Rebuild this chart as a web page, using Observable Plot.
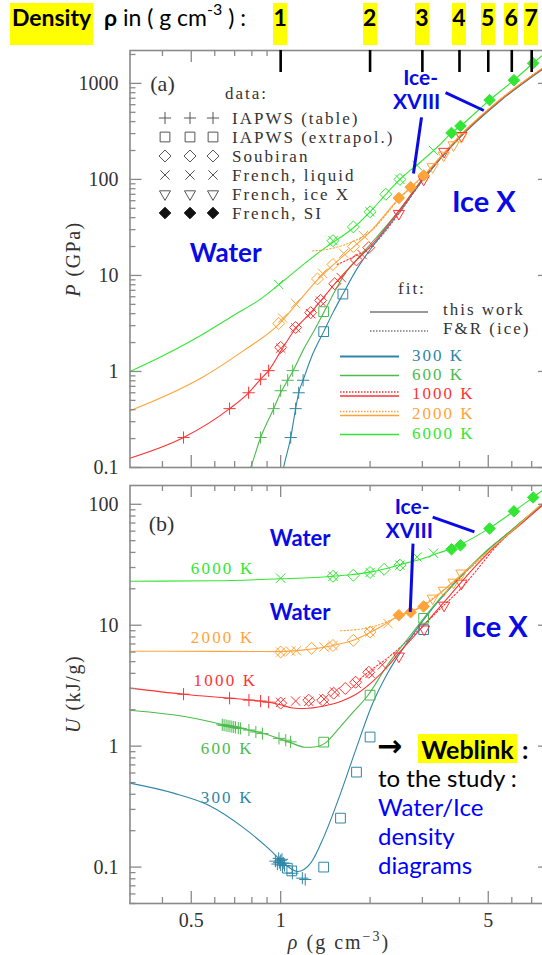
<!DOCTYPE html>
<html><head><meta charset="utf-8">
<script src="https://cdn.jsdelivr.net/npm/d3@7"></script>
<script src="https://cdn.jsdelivr.net/npm/@observablehq/plot@0.6"></script>
<style>
html,body{margin:0;padding:0;background:#fff;overflow:hidden;}
#wrap{position:relative;width:542px;height:955px;overflow:hidden;background:#fff;}
.abs{position:absolute;white-space:nowrap;}
.hl{background:#ffff00;}
#wrap svg{max-width:none !important;}
</style></head><body><div id="wrap"></div>
<script>
// ---------- categories / ticks ----------
const densityTicks = [1,2,3,4,5,6,7];
const xTickLabels = [0.5,1,5];
const xMajor = [0.5,1,5];
const topYTicks = [0.1,1,10,100,1000];
const botYTicks = [0.1,1,10,100];
const temps = [300,600,1000,2000,6000];
const tempColors = ["#2f86a6","#4cbb4c","#ff3333","#ffa43a","#33e633"];
const color = T => tempColors[temps.indexOf(T)];

// ---------- panel (a): P fits "this work" [rho, P] ----------
const P_fit300 = [[1.0,0.07],[1.023,0.1],[1.081,0.205],[1.123,0.41],[1.15,0.6],[1.19,0.81],[1.28,1.5],[1.396,2.6],[1.5,4.1],[1.62,6.4],[1.8,11.5],[2.0,18.5],[2.5,45],[3.0,97],[4.0,270],[5.5,660],[8.1,1600]];
const P_fit600 = [[0.75,0.07],[0.792,0.1],[0.856,0.205],[0.947,0.41],[1.0,0.6],[1.056,0.81],[1.098,1.0],[1.2,1.75],[1.3,2.7],[1.396,4.1],[1.5,6.3],[1.65,10.5],[1.85,16],[2.0,21],[2.5,47],[3.0,100],[4.0,275],[5.5,670],[8.1,1620]];
const P_fit1000 = [[0.311,0.125],[0.471,0.205],[0.673,0.41],[0.78,0.6],[0.856,0.83],[0.911,1.02],[1.0,1.62],[1.123,2.8],[1.262,4.1],[1.363,5.4],[1.5,7.8],[1.7,12],[1.9,17],[2.0,20],[2.5,47],[3.0,100],[4.0,278],[5.5,675],[8.1,1630]];
const P_fit2000 = [[0.311,0.39],[0.538,0.85],[0.75,1.65],[0.985,3.1],[1.123,4.9],[1.33,9.0],[1.5,12.8],[1.75,19.5],[2.0,28.5],[2.5,63],[2.74,83],[3.03,110],[3.5,180],[4.0,283],[5.5,685],[8.1,1650]];
const P_fit6000 = [[0.311,1.0],[0.4,1.45],[0.538,2.37],[0.7,3.9],[0.843,5.5],[0.985,8.0],[1.2,13.2],[1.417,19.6],[1.75,31],[2.0,46],[2.26,70],[2.52,100],[3.0,158],[3.46,235],[3.76,305],[4.03,360],[5.05,670],[6.1,1080],[7.08,1620],[8.1,2300]];
// F&R (ice) fits
const P_fr1000 = [[1.55,13],[1.75,15.5],[2.0,19.5],[2.5,44],[3.0,97],[4.0,272],[5.5,670],[8.1,1630]];
const P_fr2000 = [[1.28,18],[1.45,18.8],[1.65,21],[1.85,24.5],[2.0,28.5],[2.5,62],[3.0,106],[4.0,282],[5.5,685],[8.1,1650]];

// ---------- panel (a): data points [T, rho, P] ----------
const P_table = [[300,1.081,0.205],[300,1.123,0.41],[300,1.15,0.6],[300,1.19,0.81],[600,0.856,0.205],[600,0.947,0.41],[600,1.0,0.63],[600,1.056,0.81],[600,1.098,1.02],[1000,0.471,0.205],[1000,0.673,0.41],[1000,0.78,0.6],[1000,0.856,0.83],[1000,0.911,1.02]];
const P_extrap = [[300,1.396,2.6],[300,1.62,6.4],[600,1.396,4.2]];
const P_soubiran = [[1000,1.0,1.78],[1000,1.123,2.87],[1000,1.262,4.1],[1000,1.363,5.5],[1000,1.52,8.2],[1000,1.8,14.5],[1000,1.98,19.5],[2000,0.985,3.16],[2000,1.33,9.2],[2000,1.5,13],[2000,1.757,20],[6000,1.5,23],[6000,1.757,32],[6000,2.0,46],[6000,2.26,70],[6000,2.52,100]];
const P_liquid = [[1000,1.0,1.75],[1000,1.123,2.85],[1000,1.262,4.0],[1000,1.363,5.4],[1000,1.6,9.5],[1000,1.88,16.5],[2000,1.016,3.6],[2000,1.123,5.1],[2000,1.385,10.5],[2000,1.63,17],[2000,1.9,26],[6000,0.985,8.05],[6000,1.5,23],[6000,2.0,46],[6000,2.52,100],[6000,2.88,140],[6000,3.27,200]];
const P_iceX = [[1000,2.5,44],[1000,3.03,100],[1000,3.55,195],[1000,4.06,285],[2000,3.25,135],[2000,3.54,178],[2000,3.82,228],[2000,4.06,278]];
const P_SI = [[2000,2.5,64],[2000,2.74,83],[2000,3.03,110],[6000,3.76,305],[6000,4.03,360],[6000,5.05,670],[6000,6.1,1080],[6000,7.08,1620]];

// ---------- panel (b): U fits [rho, U] ----------
const U_fit300 = [[0.311,0.495],[0.436,0.409],[0.57,0.326],[0.745,0.214],[0.923,0.138],[1.0,0.114],[1.14,0.092],[1.262,0.108],[1.396,0.177],[1.592,0.409],[1.788,0.927],[2.04,2.25],[2.29,4.0],[2.74,7.9],[3.27,14.1],[4.03,25],[4.97,41.6],[6.0,61],[7.0,84],[8.1,113]];
const U_fit600 = [[0.311,1.98],[0.5,1.72],[0.653,1.49],[0.78,1.36],[0.87,1.28],[0.985,1.16],[1.08,1.07],[1.21,0.98],[1.32,0.99],[1.42,1.07],[1.55,1.35],[1.75,1.9],[1.96,2.6],[2.29,4.7],[2.74,8.3],[3.27,14.4],[4.03,25.3],[4.97,42],[6.0,61.5],[7.0,85],[8.1,114]];
const U_fit1000 = [[0.311,3.02],[0.471,2.69],[0.673,2.49],[0.856,2.36],[1.0,2.2],[1.098,2.07],[1.2,2.05],[1.4,2.15],[1.6,2.35],[1.8,2.7],[2.06,3.5],[2.3,4.6],[2.53,6.1],[2.8,8],[3.12,10.8],[3.74,18],[4.46,29.5],[5.5,49.5],[6.5,70],[8.1,112]];
const U_fit2000 = [[0.311,6.1],[0.6,6.08],[1.0,6.05],[1.2,6.25],[1.5,6.8],[1.757,7.5],[2.0,8.7],[2.2,9.9],[2.5,12],[2.74,12.9],[3.03,14.5],[3.5,19],[4.0,25.5],[5.5,50],[6.0,60],[7.0,85],[8.1,116]];
const U_fit6000 = [[0.311,23.1],[0.6,23.3],[1.0,24.2],[1.3,24.8],[1.5,25.4],[1.75,26.3],[2.0,27.5],[2.25,29.3],[2.5,31.5],[3.0,35.5],[3.4,39.5],[3.76,43],[4.03,46.5],[5.05,63.5],[6.1,87.5],[7.08,114],[8.1,146]];
const U_fr1000 = [[1.85,3.6],[2.0,4.2],[2.3,5.4],[2.6,7.0],[3.0,9.8],[3.5,14.2],[4.0,19.5],[5.5,49],[8.1,111]];
const U_fr2000 = [[1.59,9.0],[1.8,9.2],[2.0,9.6],[2.2,10.3],[2.5,11.8],[3.0,14.6],[3.5,19.2],[4.0,25],[5.5,49.5],[8.1,115]];

// ---------- panel (b): data points [T, rho, U] ----------
const U_table = [[300,0.96,0.112],[300,0.975,0.106],[300,0.985,0.118],[300,0.99,0.109],[300,1.0,0.113],[300,1.0,0.104],[300,1.01,0.116],[300,1.02,0.108],[300,1.03,0.103],[300,1.095,0.089],[300,1.183,0.081],[300,1.21,0.079],
 [600,0.636,1.5],[600,0.645,1.49],[600,0.655,1.48],[600,0.665,1.47],[600,0.675,1.46],[600,0.685,1.45],[600,0.695,1.44],[600,0.705,1.43],[600,0.72,1.41],[600,0.733,1.4],[600,0.782,1.36],[600,0.825,1.31],[600,0.868,1.27],[600,0.987,1.16],[600,1.04,1.12],[600,1.08,1.085],
 [1000,0.471,2.69],[1000,0.673,2.49],[1000,0.782,2.4],[1000,0.856,2.36],[1000,0.911,2.31]];
const U_extrap = [[300,1.053,0.098],[300,1.09,0.093],[300,1.396,0.1],[300,1.59,0.254],[300,1.8,0.61],[300,2.0,1.19],[300,3.03,9.2],[600,1.396,1.08],[600,2.0,2.64],[600,3.03,11.4]];
const U_soubiran = [[1000,1.0,2.27],[1000,1.243,2.4],[1000,1.385,2.4],[1000,1.508,2.74],[1000,1.65,3.0],[1000,1.788,3.38],[1000,1.98,4.08],[2000,1.0,6.0],[2000,1.27,6.45],[2000,1.5,6.8],[2000,1.757,7.5],[2000,2.0,8.8],[6000,1.5,25.4],[6000,1.757,25.9],[6000,2.0,27.3],[6000,2.23,29],[6000,2.52,31.4]];
const U_liquid = [[1000,1.0,2.3],[1000,1.123,2.36],[1000,1.243,2.35],[1000,1.4,2.45],[1000,1.52,2.8],[1000,1.8,3.3],[1000,2.0,4.0],[1000,2.2,4.7],[2000,1.0,6.0],[2000,1.08,6.1],[2000,1.13,6.15],[2000,1.4,6.6],[2000,1.5,6.8],[2000,2.0,8.8],[2000,2.3,10.3],[6000,1.0,24.5],[6000,1.5,25.4],[6000,2.0,27.3],[6000,2.52,31.4],[6000,2.88,36.6],[6000,3.27,39.4]];
const U_iceX = [[1000,2.5,5.54],[1000,3.04,9.27],[1000,3.55,14.6],[1000,4.06,22.2],[2000,3.25,16.7],[2000,3.54,19.4],[2000,3.82,22.6],[2000,4.06,26.9]];
const U_SI = [[2000,2.5,12.1],[2000,2.74,12.8],[2000,3.03,14.3],[6000,3.76,42.4],[6000,4.03,45.8],[6000,5.05,63],[6000,6.1,87.5],[6000,7.08,114]];

// ---------- annotations ----------
const topLabels = [["Water",0.653,16.9,26],["Ice X",4.83,57.7,29],["Ice-",2.96,1140,21],["XVIII",2.87,635,21]];
const topPointers = [[2.98,443,2.80,115],[3.59,803,4.83,522]];
const botLabels = [["Water",1.163,51.5,22],["Water",1.163,12.6,22],["Ice X",5.3,9.6,29],["Ice-",2.77,94.6,21],["XVIII",2.71,59.8,21]];
const botPointers = [[4.49,59.2,3.25,78.3],[2.79,47.3,2.73,12.9]];
const tempLabels = [["6000 K",6000,0.498,29.5],["2000 K",2000,0.498,7.96],["1000 K",1000,0.509,3.51],["600 K",600,0.538,0.963],["300 K",300,0.538,0.379]];

// ---------- helpers ----------
const XDOM = [0.311, 8.1];
const W = 560, ML = 129.5, MR = 10;
const PW = W - ML - MR;
const triples = a => a.map(([T,rho,v]) => ({T, rho, v}));
function minorLog(lo, hi, skip) {
  const out = [];
  for (let e = -3; e <= 4; e++) for (let m = 2; m <= 9; m++) {
    const v = +(m * Math.pow(10, e)).toPrecision(3);
    if (v >= lo && v <= hi && !skip.includes(v)) out.push(v);
  }
  return out;
}
const xMinor = minorLog(XDOM[0], XDOM[1], xMajor);
function frameTicks(yMaj, yMin, PH) {
  const o = {stroke: "#8a8a8a", strokeWidth: 1.3};
  const L = 12, S = 6;
  return [
    Plot.ruleX(xMajor, {x: d => d, insetTop: PH - L, ...o}),
    Plot.ruleX(xMinor, {x: d => d, insetTop: PH - S, ...o}),
    Plot.ruleX(xMajor, {x: d => d, insetBottom: PH - L, ...o}),
    Plot.ruleX(xMinor, {x: d => d, insetBottom: PH - S, ...o}),
    Plot.ruleY(yMaj, {y: d => d, insetRight: PW - L, ...o}),
    Plot.ruleY(yMin, {y: d => d, insetRight: PW - S, ...o}),
    Plot.ruleY(yMaj, {y: d => d, insetLeft: PW - L, ...o}),
    Plot.ruleY(yMin, {y: d => d, insetLeft: PW - S, ...o}),
    Plot.frame({stroke: "#8a8a8a", strokeWidth: 1.6})
  ];
}
const fitLine = (arr, T, dash) => Plot.line(arr, {x: d => d[0], y: d => d[1], stroke: color(T), strokeWidth: 1.1, curve: "monotone-x", clip: true, strokeDasharray: dash});
function dataMarks(sets) {
  const [table, extrap, soub, liq, iceX, si] = sets.map(triples);
  const base = {x: "rho", y: "v", stroke: d => color(d.T), fill: "none", strokeWidth: 1, clip: true};
  return [
    Plot.dot(table, {...base, symbol: "plus", r: 4}),
    Plot.dot(extrap, {...base, symbol: "square2", r: 6.2}),
    Plot.dot(soub, {...base, symbol: "diamond2", r: 5.4}),
    Plot.dot(liq, {...base, symbol: "times", r: 4.3}),
    Plot.dot(iceX, {...base, symbol: "triangle2", r: 5.3, rotate: 180}),
    Plot.dot(si, {...base, symbol: "diamond2", r: 5.2, fill: d => color(d.T)})
  ];
}
function annot(labels, pointers) {
  const marks = [Plot.link(pointers, {x1: d => d[0], y1: d => d[1], x2: d => d[2], y2: d => d[3], stroke: "#0a0ae6", strokeWidth: 3})];
  for (const l of labels) {
    marks.push(Plot.text([l], {x: d => d[1], y: d => d[2], text: d => d[0], fontSize: l[3], fontFamily: "Lato", fontWeight: "bold", fill: "#0a0ae6"}));
  }
  return marks;
}
const plotStyle = {background: "transparent", overflow: "visible", maxWidth: "none"};
const serif = {fontFamily: "Liberation Serif", fill: "#333"};

// ---------- panel (a) ----------
const PH_TOP = 467 - 50;
const topPlot = Plot.plot({
  width: W, height: 480, marginLeft: ML, marginRight: MR, marginTop: 50, marginBottom: 13,
  x: {type: "log", domain: XDOM, axis: null},
  y: {type: "log", domain: [0.1, 2200], axis: null},
  color: {type: "identity"},
  style: plotStyle,
  marks: [
    fitLine(P_fr1000, 1000, "1.5,2"), fitLine(P_fr2000, 2000, "1.5,2"),
    fitLine(P_fit300, 300), fitLine(P_fit600, 600), fitLine(P_fit1000, 1000), fitLine(P_fit2000, 2000), fitLine(P_fit6000, 6000),
    ...dataMarks([P_table, P_extrap, P_soubiran, P_liquid, P_iceX, P_SI]),
    ...frameTicks(topYTicks, minorLog(0.1, 2200, topYTicks), PH_TOP),
    Plot.ruleX(densityTicks, {x: d => d, insetBottom: PH_TOP - 22, stroke: "#000", strokeWidth: 2.6}),
    Plot.text(topYTicks, {y: d => d, frameAnchor: "left", textAnchor: "end", lineAnchor: "middle", dx: -11.5, text: d => String(d), fontSize: 20, ...serif}),
    Plot.text(["(a)"], {frameAnchor: "top-left", textAnchor: "middle", lineAnchor: "middle", dx: 32.5, dy: 33, text: d => d, fontSize: 22, ...serif}),
    ...annot(topLabels, topPointers)
  ]
});

// ---------- panel (b) ----------
const PH_BOT = 903 - 485;
const botPlot = Plot.plot({
  width: W, height: 485, marginLeft: ML, marginRight: MR, marginTop: 15, marginBottom: 52,
  x: {type: "log", domain: XDOM, axis: null},
  y: {type: "log", domain: [0.05, 143], axis: null},
  color: {type: "identity"},
  style: plotStyle,
  marks: [
    fitLine(U_fr1000, 1000, "1.5,2"), fitLine(U_fr2000, 2000, "1.5,2"),
    fitLine(U_fit300, 300), fitLine(U_fit600, 600), fitLine(U_fit1000, 1000), fitLine(U_fit2000, 2000), fitLine(U_fit6000, 6000),
    ...dataMarks([U_table, U_extrap, U_soubiran, U_liquid, U_iceX, U_SI]),
    ...frameTicks(botYTicks, minorLog(0.05, 143, botYTicks), PH_BOT),
    Plot.text(botYTicks, {y: d => d, frameAnchor: "left", textAnchor: "end", lineAnchor: "middle", dx: -11.5, text: d => String(d), fontSize: 20, ...serif}),
    Plot.text(xTickLabels, {x: d => d, frameAnchor: "bottom", textAnchor: "middle", lineAnchor: "middle", dy: 17, text: d => String(d), fontSize: 20, ...serif}),
    Plot.text(["(b)"], {frameAnchor: "top-left", textAnchor: "middle", lineAnchor: "middle", dx: 31.5, dy: 38, text: d => d, fontSize: 22, ...serif}),
    Plot.text(tempLabels, {x: d => d[2], y: d => d[3], text: d => d[0], fill: d => color(d[1]), textAnchor: "start", fontSize: 17, fontFamily: "Liberation Serif"}),
    ...annot(botLabels, botPointers)
  ]
});

const wrap = document.getElementById("wrap");
for (const [svg, top] of [[topPlot, 0], [botPlot, 470]]) {
  svg.style.position = "absolute"; svg.style.left = "0px"; svg.style.top = top + "px";
  svg.style.maxWidth = "none"; svg.style.width = W + "px";
  wrap.appendChild(svg);
}
d3.select(botPlot).selectAll("text").filter(function () { return / K$/.test(this.textContent); }).attr("letter-spacing", "2.2px");

// ---------- legends (panel a) ----------
const lg = d3.select(topPlot).append("g").attr("font-family", "Liberation Serif").attr("font-size", 17).attr("letter-spacing", "2px").attr("text-anchor", "start");
lg.append("text").attr("x", 225).attr("y", 93).attr("dy", "0.35em").attr("fill", "#333").text("data:");
const legendRows = [
  ["IAPWS (table)", d3.symbolPlus, 50, false, false],
  ["IAPWS (extrapol.)", d3.symbolSquare2, 121, false, false],
  ["Soubiran", d3.symbolDiamond2, 92, false, false],
  ["French, liquid", d3.symbolTimes, 58, false, false],
  ["French, ice X", d3.symbolTriangle2, 88, true, false],
  ["French, SI", d3.symbolDiamond2, 85, false, true]
];
legendRows.forEach(([label, sym, size, rot, filled], i) => {
  const y = 118 + i * 19;
  [165, 190, 213].forEach(x => {
    lg.append("path").attr("d", d3.symbol(sym, size)())
      .attr("transform", `translate(${x},${y})` + (rot ? " rotate(180)" : ""))
      .attr("fill", filled ? "#111" : "none").attr("stroke", filled ? "#111" : "#555").attr("stroke-width", 1);
  });
  lg.append("text").attr("x", 232).attr("y", y).attr("dy", "0.35em").attr("fill", "#333").text(label);
});
lg.append("text").attr("x", 398).attr("y", 288).attr("dy", "0.35em").attr("fill", "#333").text("fit:");
lg.append("line").attr("x1", 370).attr("x2", 428).attr("y1", 312).attr("y2", 312).attr("stroke", "#777").attr("stroke-width", 1.5);
lg.append("text").attr("x", 443).attr("y", 309).attr("dy", "0.35em").attr("fill", "#333").text("this work");
lg.append("line").attr("x1", 370).attr("x2", 428).attr("y1", 331).attr("y2", 331).attr("stroke", "#777").attr("stroke-width", 1.5).attr("stroke-dasharray", "1.5,1.5");
lg.append("text").attr("x", 443).attr("y", 328).attr("dy", "0.35em").attr("fill", "#333").text("F&R (ice)");
const legendTempY = [355, 374, 393.5, 413, 433];
temps.forEach((T, i) => {
  const y = legendTempY[i], c = color(T);
  if (T === 1000 || T === 2000) {
    lg.append("line").attr("x1", 340).attr("x2", 399).attr("y1", y - 1.5).attr("y2", y - 1.5).attr("stroke", c).attr("stroke-width", 1.3).attr("stroke-dasharray", "1.5,1.5");
    lg.append("line").attr("x1", 340).attr("x2", 399).attr("y1", y + 2.5).attr("y2", y + 2.5).attr("stroke", c).attr("stroke-width", 1.5);
  } else {
    lg.append("line").attr("x1", 340).attr("x2", 399).attr("y1", y + 1.5).attr("y2", y + 1.5).attr("stroke", c).attr("stroke-width", T === 300 ? 2 : 1.5);
  }
  lg.append("text").attr("x", 412).attr("y", y).attr("dy", "0.35em").attr("fill", c).text(T + " K");
});

// ---------- HTML overlays ----------
function addDiv(html, css, cls) {
  const d = document.createElement("div");
  d.className = "abs " + (cls || "");
  d.style.cssText += css;
  d.innerHTML = html;
  wrap.appendChild(d);
  return d;
}
addDiv("Density", "left:10px;top:3px;width:83px;height:42px;line-height:42px;text-align:center;font:bold 23px Lato;color:#000;", "hl");
addDiv('<b>ρ</b> in ( g cm<span style="font-size:16px;position:relative;top:-11px;">-3</span> ) :', "left:104px;top:3px;line-height:42px;font:23px Lato;color:#000;");
const xs = topPlot.scale("x");
densityTicks.forEach(v => {
  const px = xs.apply(v);
  addDiv(String(v), `left:${px - 7}px;top:3px;width:14px;height:42px;line-height:42px;text-align:center;font:bold 23px Lato;color:#000;`, "hl");
});
addDiv("<i>P</i>&nbsp;(GPa)", "left:73px;top:259px;transform:translate(-50%,-50%) rotate(-90deg);font:20px 'Liberation Serif';letter-spacing:1.5px;color:#333;");
addDiv("<i>U</i>&nbsp;(kJ/g)", "left:73px;top:694px;transform:translate(-50%,-50%) rotate(-90deg);font:20px 'Liberation Serif';letter-spacing:1.5px;color:#333;");
addDiv('<i>ρ</i>&nbsp;(g&nbsp;cm<span style="font-size:14px;position:relative;top:-8px;">−3</span>)', "left:339px;top:942px;transform:translate(-50%,-50%);font:20px 'Liberation Serif';letter-spacing:2px;color:#333;");
addDiv("→", "left:377px;top:729px;font:bold 30px 'DejaVu Sans';line-height:34px;color:#000;");
addDiv("Weblink", "left:418px;top:734px;width:99px;height:29px;line-height:29px;text-align:center;font:bold 25px Lato;color:#000;", "hl");
addDiv(":", "left:522px;top:734px;line-height:29px;font:bold 25px Lato;color:#000;");
addDiv('to the study :<br><span style="color:#0000ff">Water/Ice<br>density<br>diagrams</span>', "left:378px;top:763px;line-height:29px;font:24px Lato;color:#000;");
</script></body></html>
